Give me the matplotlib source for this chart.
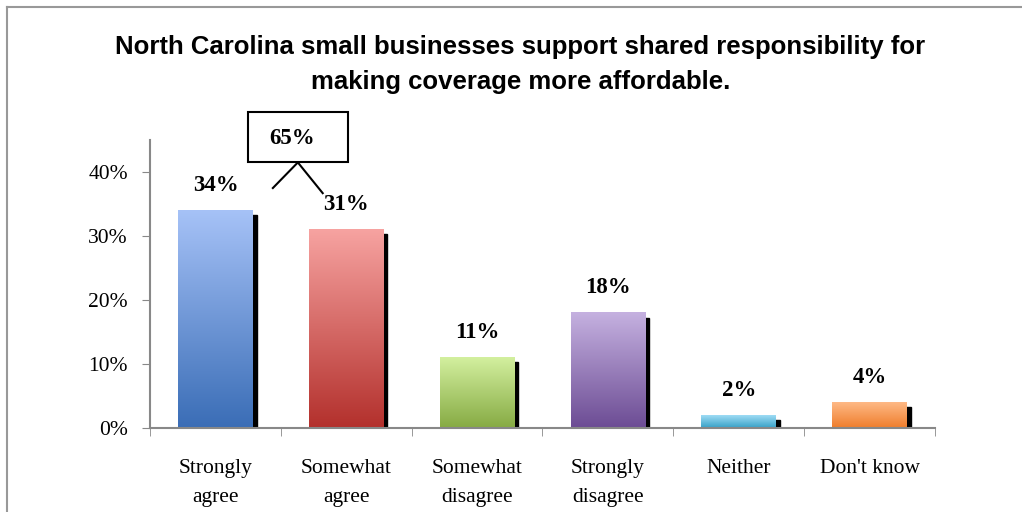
import numpy as np
import matplotlib.pyplot as plt
from matplotlib.colors import LinearSegmentedColormap
from matplotlib.patches import Rectangle
from matplotlib.lines import Line2D

# survey answers
categories = ['Strongly\nagree', 'Somewhat\nagree', 'Somewhat\ndisagree',
              'Strongly\ndisagree', 'Neither', "Don't know"]
values = [34, 31, 11, 18, 2, 4]
combined_label = '65%'
# top / bottom colours of each bar gradient
tops = ['#a6c2f7', '#f7a3a1', '#d3f09f', '#c5b1e0', '#9edcf5', '#feb986']
bottoms = ['#3a6db6', '#b3302c', '#86aa43', '#6c4c94', '#36a0c6', '#ef7d2b']

serif = 'Liberation Serif'

fig = plt.figure(figsize=(10.22, 5.12), dpi=100)
ax = fig.add_axes([0.1468, 0.164, 0.768, 0.5625])

x = np.arange(len(values))
w = 0.57
for i, v in enumerate(values):
    # black drop shadow, shifted to the right and a bit down
    ax.add_patch(Rectangle((i - w / 2 + 0.03, 0), w, v - 0.75, color='black', zorder=1))
    cmap = LinearSegmentedColormap.from_list('g%d' % i, [bottoms[i], tops[i]])
    grad = np.linspace(0, 1, 256).reshape(-1, 1)
    ax.imshow(grad, cmap=cmap, origin='lower', aspect='auto',
              extent=(i - w / 2, i + w / 2, 0, v), zorder=2)
    ax.text(i, v + 3.9, '%d%%' % v, ha='center', va='center', fontsize=16.5,
            fontweight='bold', family=serif)

ax.set_xlim(-0.5, len(values) - 0.5)
ax.set_ylim(0, 45)
ax.set_yticks([0, 10, 20, 30, 40])
ax.set_yticklabels(['%d%%' % t for t in [0, 10, 20, 30, 40]])
ax.set_xticks(x)
ax.set_xticklabels(categories, family=serif, fontsize=15.5, linespacing=1.75)
ax.set_xticks(np.arange(-0.5, len(values)), minor=True)
ax.tick_params(axis='x', which='major', length=0, pad=22)
ax.tick_params(axis='x', which='minor', length=6, color='#888888', direction='out')
ax.tick_params(axis='y', length=6, color='#888888', pad=10, labelsize=15.5)
for lab in ax.get_yticklabels():
    lab.set_family(serif)
for s in ['top', 'right']:
    ax.spines[s].set_visible(False)
for s in ['left', 'bottom']:
    ax.spines[s].set_color('#888888')
    ax.spines[s].set_linewidth(1.5)

# combined agree callout
ax.add_patch(Rectangle((0.248, 41.6), 0.763, 7.8, fc='white', ec='black', lw=1.5,
                       clip_on=False, zorder=3))
ax.text(0.584, 45.3, combined_label, ha='center', va='center', fontsize=16.5,
        fontweight='bold', family=serif, zorder=4)
ax.plot([0.63, 0.439], [41.5, 37.5], color='black', lw=1.5, clip_on=False)
ax.plot([0.63, 0.82], [41.5, 36.7], color='black', lw=1.5, clip_on=False)

fig.text(0.509, 0.874, 'North Carolina small businesses support shared responsibility for\n'
         'making coverage more affordable.', ha='center', va='center', fontsize=18.5,
         fontweight='bold', family='Liberation Sans', linespacing=1.6)

# frame lines along top and left edge
fig.add_artist(Line2D([0.007, 1.0], [0.987, 0.987], color='#999999', lw=1.5))
fig.add_artist(Line2D([0.007, 0.007], [0.0, 0.987], color='#999999', lw=1.5))

fig.savefig('out.png', dpi=100)
